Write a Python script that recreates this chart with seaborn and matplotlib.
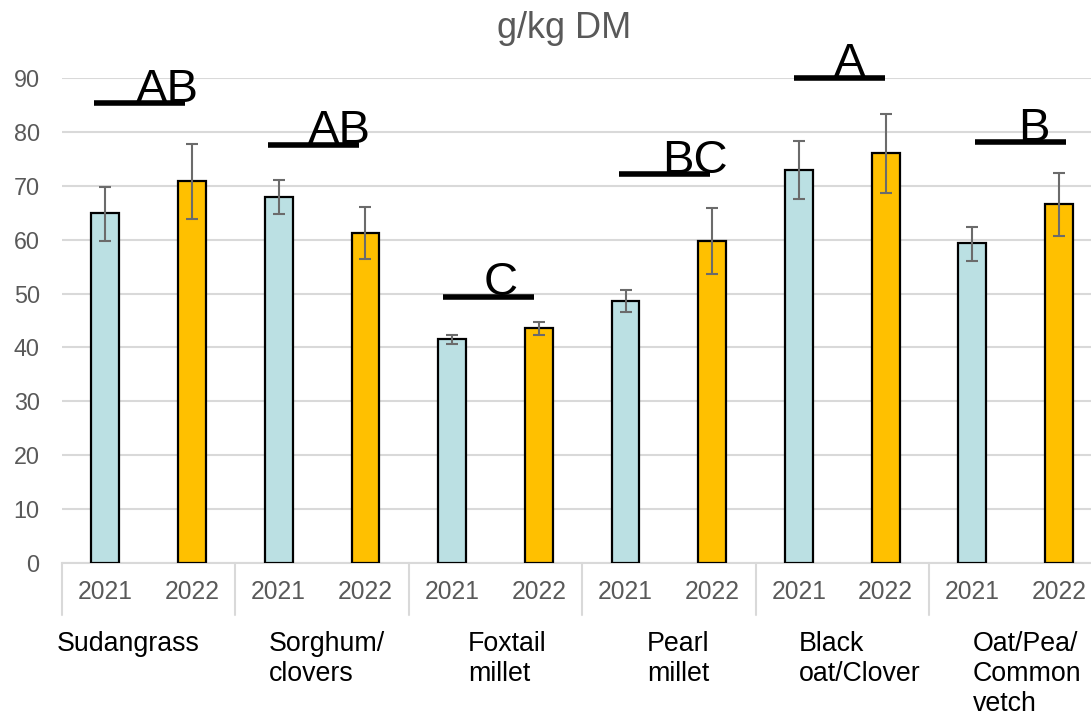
import numpy as np
import pandas as pd
import matplotlib
matplotlib.use("Agg")
import matplotlib.pyplot as plt
import matplotlib.transforms as mtransforms
import seaborn as sns

# ---- data -------------------------------------------------------------
crops = ["Sudangrass", "Sorghum/\nclovers", "Foxtail\nmillet", "Pearl\nmillet",
         "Black\noat/Clover", "Oat/Pea/\nCommon\nvetch"]
years = ["2021", "2022"]

mean_2021 = [64.9, 67.9, 41.5, 48.6, 72.9, 59.4]
mean_2022 = [70.9, 61.3, 43.7, 59.7, 76.0, 66.6]
low_2021 = [59.8, 64.7, 40.6, 46.6, 67.6, 56.0]
high_2021 = [69.8, 71.0, 42.4, 50.6, 78.4, 62.3]
low_2022 = [63.9, 56.5, 42.4, 53.6, 68.6, 60.7]
high_2022 = [77.7, 66.0, 44.8, 65.9, 83.4, 72.4]

# mean separation letters and the height of their bars
letters = ["AB", "AB", "C", "BC", "A", "B"]
letter_level = [85.3, 77.6, 49.4, 72.1, 90.0, 78.1]

# ---- long table: one row per bar -------------------------------------
rows = []
for i, crop in enumerate(crops):
    for yr, m, lo, hi in [("2021", mean_2021[i], low_2021[i], high_2021[i]),
                          ("2022", mean_2022[i], low_2022[i], high_2022[i])]:
        rows.append({"slot": f"{crop} {yr}", "crop": crop, "year": yr,
                     "value": m, "low": lo, "high": hi})
df = pd.DataFrame(rows)
slots = list(df["slot"])

# ---- style --------------------------------------------------------------
sns.set_style("white")
plt.rcParams["font.family"] = ["Liberation Sans", "DejaVu Sans"]

GRID = "#d9d9d9"
TXT_GRAY = "#595959"
palette = {"2021": "#bbe0e3", "2022": "#ffc000"}

fig = plt.figure(figsize=(10.91, 7.17), dpi=100)
ax = fig.add_axes([0.0568, 0.2148, 0.9432, 0.6764])

sns.barplot(data=df, x="slot", y="value", hue="year", order=slots,
            palette=palette, saturation=1, dodge=False, width=0.32,
            edgecolor="black", linewidth=1.6, errorbar=None, legend=False,
            ax=ax, zorder=3)

xpos = np.arange(len(df))
vals = df["value"].to_numpy()
ax.errorbar(xpos, vals,
            yerr=[vals - df["low"].to_numpy(), df["high"].to_numpy() - vals],
            fmt="none", ecolor="#6b6b6b", elinewidth=1.5, capsize=4.3,
            capthick=1.5, zorder=4)

# axes, grid, ticks
ax.set_ylim(0, 90)
ax.set_xlim(-0.5, -0.5 + 1029 / 86.7)
ax.set_yticks(np.arange(0, 91, 10))
ax.yaxis.grid(True, color=GRID, lw=1.5)
ax.set_axisbelow(True)
for side in ["left", "right", "top"]:
    ax.spines[side].set_visible(False)
ax.spines["bottom"].set_color(GRID)
ax.spines["bottom"].set_linewidth(1.5)
ax.tick_params(axis="y", length=0, pad=16, labelsize=16.8, labelcolor=TXT_GRAY)
ax.tick_params(axis="x", length=0, pad=12, labelsize=17.7, labelcolor=TXT_GRAY)
ax.set_xticks(xpos)
ax.set_xticklabels(df["year"])
ax.set_xlabel("")
ax.set_ylabel("")

# group separators in the category axis
trans_x = mtransforms.blended_transform_factory(ax.transData, ax.transAxes)
for g in range(len(crops)):
    ax.plot([2 * g - 0.5, 2 * g - 0.5], [0, -0.107], color=GRID, lw=1.5,
            transform=trans_x, clip_on=False)

# crop names under the years
trans_fig = mtransforms.blended_transform_factory(ax.transData, fig.transFigure)
name_x = [-0.558, 1.888, 4.183, 6.247, 8.0, 10.008]
for nx, crop in zip(name_x, crops):
    ax.text(nx, 1 - 631 / 717, crop, transform=trans_fig, ha="left",
            va="top", fontsize=19.3, color="black", linespacing=1.2)

# significance bars and letters
bar_x0 = [-0.13, 1.876, 3.894, 5.925, 7.94, 10.03]
letter_x = [0.354, 2.337, 4.367, 6.42, 8.40, 10.53]
for g in range(len(crops)):
    ax.plot([bar_x0[g], bar_x0[g] + 1.05], [letter_level[g]] * 2, color="black",
            lw=4, solid_capstyle="butt", clip_on=False, zorder=6)
    ax.text(letter_x[g], letter_level[g] + 0.3, letters[g], ha="left",
            va="baseline", fontsize=34, color="black", clip_on=False, zorder=5)

fig.text(0.517, 1 - 38 / 717, "g/kg DM", ha="center", va="baseline",
         fontsize=26, color=TXT_GRAY)

fig.savefig("out.png", dpi=100)
